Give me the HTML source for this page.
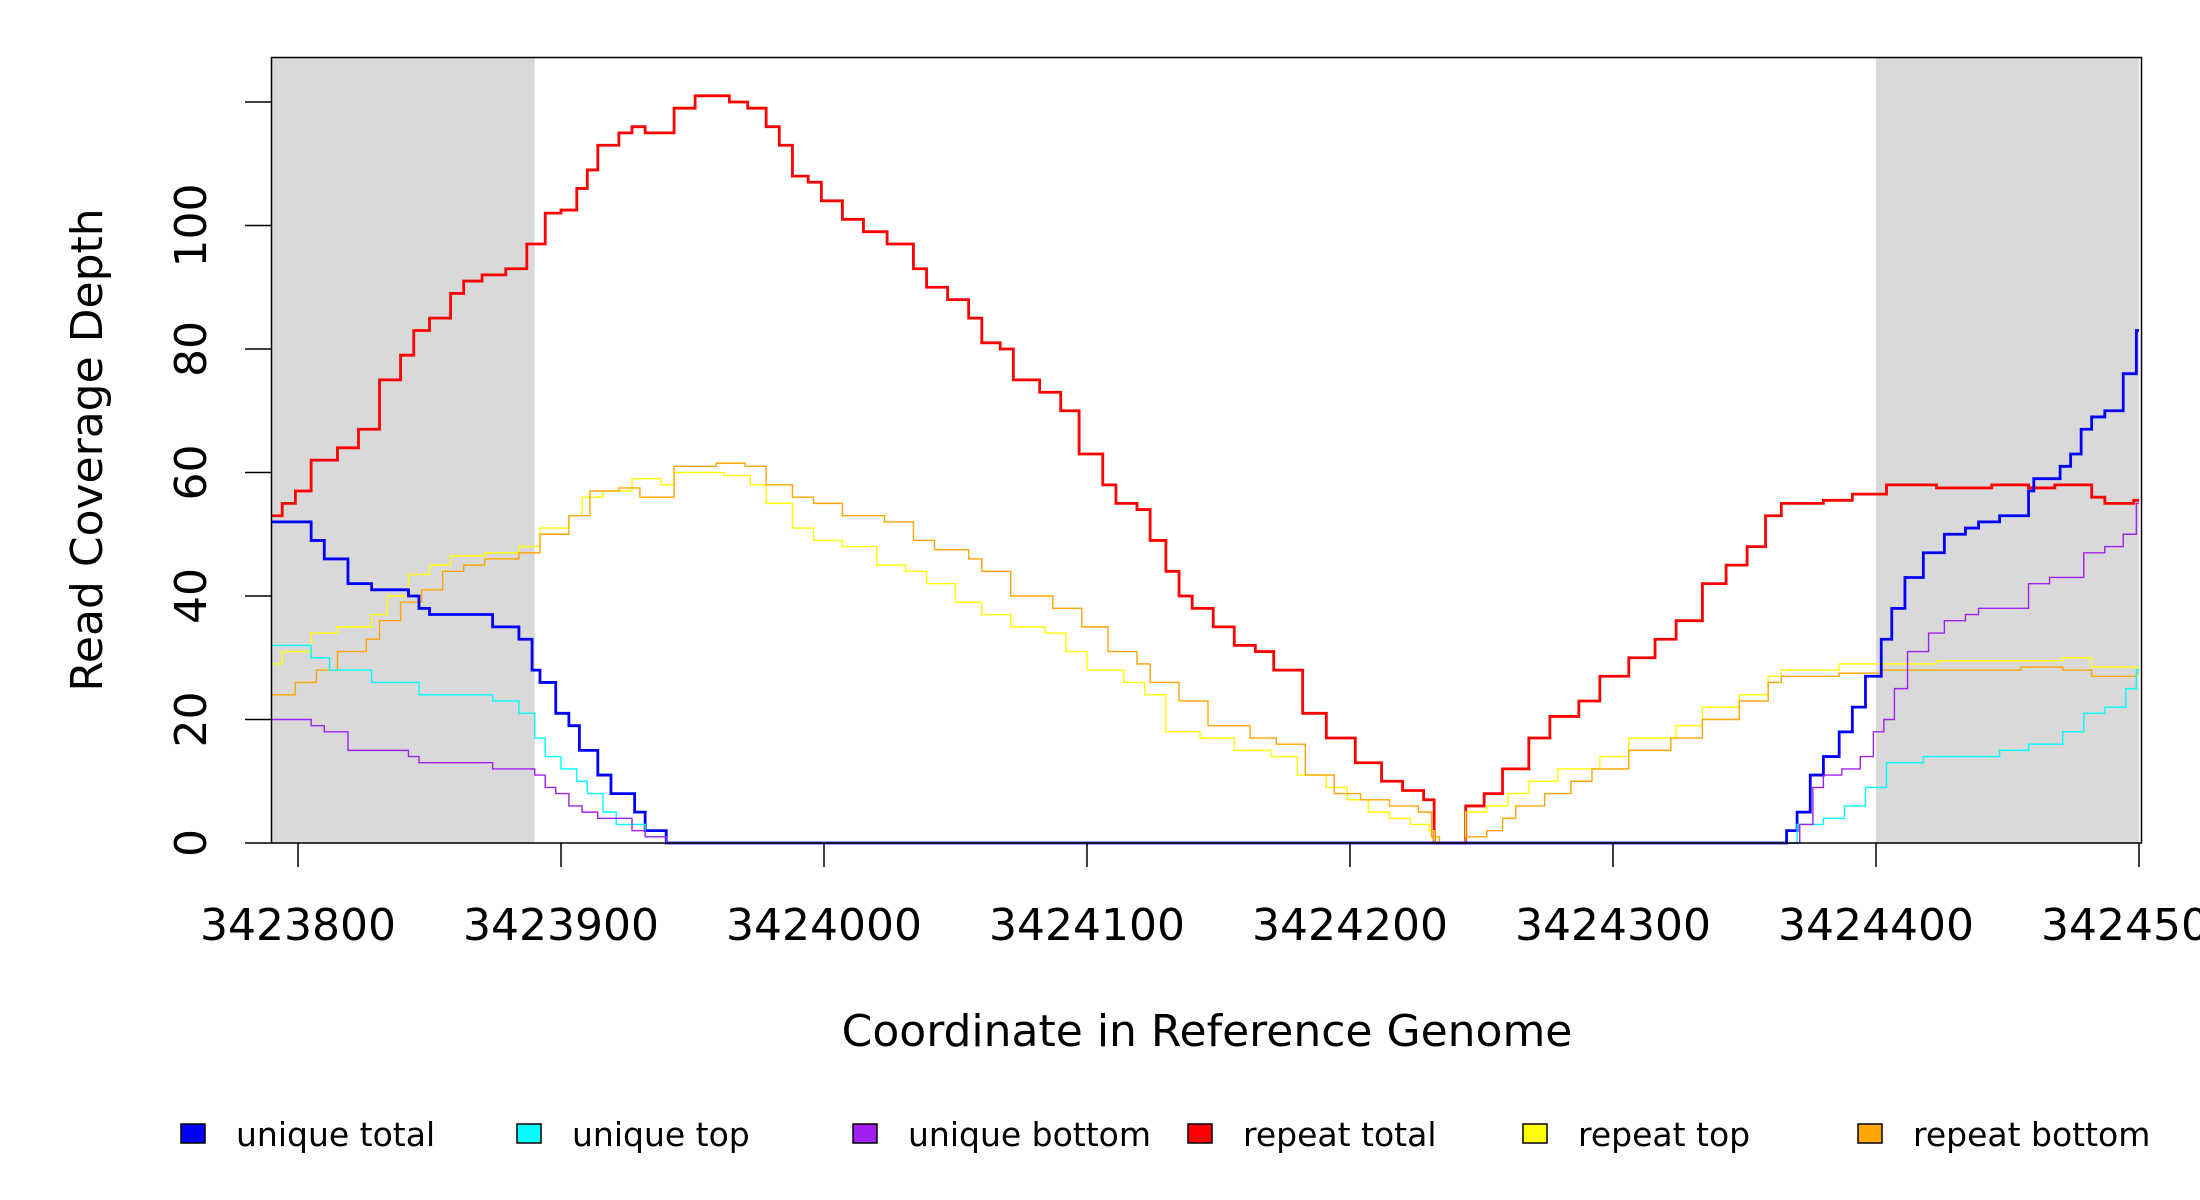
<!DOCTYPE html>
<html><head><meta charset="utf-8"><style>
html,body{margin:0;padding:0;background:#fff;}
svg{display:block;font-family:"DejaVu Sans","Liberation Sans",sans-serif;}
</style></head><body>
<svg id="chart" width="2200" height="1200" viewBox="0 0 2200 1200" xmlns="http://www.w3.org/2000/svg">
<g id="bg"></g><g id="series"></g><g id="axes"></g>
<text x="0" y="0" transform="translate(102,450) rotate(-90)" text-anchor="middle" font-size="44">Read Coverage Depth</text>
<text x="1207" y="1046" text-anchor="middle" font-size="44">Coordinate in Reference Genome</text>
<g id="legend"></g>
</svg>
<script>
const BASE = 3423800;
const xTickLabels = [3423800,3423900,3424000,3424100,3424200,3424300,3424400,3424500];
const yTickValues = [0,20,40,60,80,100,120];
const yTickLabels = ["0","20","40","60","80","100",""];
const shadedRegions = [[-10,90],[600,700]];
// step series: offsets from BASE and values
const redPos = [-10,-6,-1,5,15,23,31,39,44,50,58,63,70,79,87,94,100,106,110,114,122,127,132,140,143,151,156,164,171,178,183,188,194,199,207,215,224,234,239,247,255,260,267,272,282,290,297,306,311,319,324,330,335,340,348,356,364,371,382,391,402,412,420,428,432,444,451,458,468,476,487,495,506,516,524,534,543,551,558,564,580,591,604,623,644,658,668,682,687,698];
const redVal = [53,55,57,62,64,67,75,79,83,85,89,91,92,93,97,102,102.5,106,109,113,115,116,115,115,119,121,121,120,119,116,113,108,107,104,101,99,97,93,90,88,85,81,80,75,73,70,63,58,55,54,49,44,40,38,35,32,31,28,21,17,13,10,8.5,7,0,6,8,12,17,20.5,23,27,30,33,36,42,45,48,53,55,55.5,56.5,58,57.5,58,57.5,58,56,55,55.5];
const bluePos = [-10,5,10,19,28,42,46,50,74,84,89,92,98,103,107,114,119,128,132,140,566,570,575,580,586,591,596,602,606,611,618,626,634,639,647,658,660,670,674,678,682,687,694,699];
const blueVal = [52,49,46,42,41,40,38,37,35,33,28,26,21,19,15,11,8,5,2,0,2,5,11,14,18,22,27,33,38,43,47,50,51,52,53,57,59,61,63,67,69,70,76,83];
const cyanPos = [-10,5,12,28,46,74,84,90,94,100,106,110,116,121,132,140,570,580,588,596,604,618,647,658,671,679,687,695,699];
const cyanVal = [32,30,28,26,24,23,21,17,14,12,10,8,5,3,1,0,3,4,6,9,13,14,15,16,18,21,22,25,28];
const purplePos = [-10,5,10,19,42,46,74,90,94,98,103,108,114,127,132,140,571,576,580,587,594,599,603,607,612,620,626,634,639,658,666,679,687,694,699];
const purpleVal = [20,19,18,15,14,13,12,11,9,8,6,5,4,2,1,0,3,9,11,12,14,18,20,25,31,34,36,37,38,42,43,47,48,50,55];
const yellowPos = [-10,-6,5,15,28,34,42,50,58,71,84,92,103,108,116,127,138,143,162,172,178,188,196,207,220,231,239,250,260,271,284,292,300,314,322,330,343,356,370,380,391,399,407,415,423,430,432,444,452,460,468,479,495,506,524,534,548,559,564,586,602,623,655,671,682,699];
const yellowVal = [29,31,34,35,37,40,43.5,45,46.5,47,48,51,53,56,57,59,58,60,59.5,58,55,51,49,48,45,44,42,39,37,35,34,31,28,26,24,18,17,15,14,11,9,7,5,4,3,2,0,5,6,8,10,12,14,17,19,22,24,27,28,29,29,29.5,29.5,30,28.5,28];
const orangePos = [-10,-1,7,15,26,31,39,47,55,63,71,84,92,103,111,122,130,143,159,170,178,188,196,207,223,234,242,255,260,271,287,298,308,319,324,335,346,362,372,383,394,404,415,426,431,434,444,452,458,463,474,484,492,506,522,534,548,559,564,586,602,655,671,682,699];
const orangeVal = [24,26,28,31,33,36,39,41,44,45,46,47,50,53,57,57.5,56,61,61.5,61,58,56,55,53,52,49,47.5,46,44,40,38,35,31,29,26,23,19,17,16,11,8,7,6,5,1,0,1,2,4,6,8,10,12,15,17,20,23,26,27,27.5,28,28.5,28,27,27.5];
const legendLabels = ["unique total","unique top","unique bottom","repeat total","repeat top","repeat bottom"];
const legendColors = ["#0000ff","#00ffff","#a020f0","#ff0000","#ffff00","#ffa500"];

const NS="http://www.w3.org/2000/svg";
const PL=271.5, PR=2141.5, PT=57.5, PB=843;
const X1=700;
function xs(v){return 298 + v*2.63;}
function ys(v){return 843 - v*6.175;}
function mk(tag,attrs,parent){const e=document.createElementNS(NS,tag);for(const k in attrs)e.setAttribute(k,attrs[k]);parent.appendChild(e);return e;}
const bg=document.getElementById('bg'), ser=document.getElementById('series'), ax=document.getElementById('axes'), lg=document.getElementById('legend');
shadedRegions.forEach((r,i)=>{
  const e=mk('rect',{x:xs(r[0]),y:PT,width:xs(r[1])-xs(r[0]),height:PB-PT,fill:'#d9d9d9'},bg);
  
  
});
function stepPath(pos,val){
  const pts=pos.map((p,i)=>[p,val[i]]).sort((a,b)=>a[0]-b[0]);
  let d='M'+xs(pts[0][0])+' '+ys(pts[0][1]);
  for(let i=1;i<pts.length;i++){
    d+=' H'+xs(pts[i][0])+' V'+ys(pts[i][1]);
  }
  d+=' H'+xs(X1);
  return d;
}
const seriesList=[
 ['repeat-total-line',redPos,redVal,'#ff0000',2.8],
 ['repeat-top-line',yellowPos,yellowVal,'#ffff00',1.4],
 ['repeat-bottom-line',orangePos,orangeVal,'#ffa500',1.4],
 ['unique-total-line',bluePos,blueVal,'#0000ff',2.8],
 ['unique-top-line',cyanPos,cyanVal,'#00ffff',1.4],
 ['unique-bottom-line',purplePos,purpleVal,'#a020f0',1.4]
];
seriesList.forEach(s=>{
  const p=mk('path',{d:stepPath(s[1],s[2]),fill:'none',stroke:s[3],'stroke-width':s[4]},ser);
  
  
});
const box=mk('rect',{x:PL,y:PT,width:PR-PL,height:PB-PT,fill:'none',stroke:'#000','stroke-width':1.5},ax);


yTickValues.forEach((v,i)=>{
  const t=mk('line',{x1:245,x2:PL,y1:ys(v),y2:ys(v),stroke:'#000','stroke-width':1.5},ax);
  
  
  if(yTickLabels[i]){
    const tx=mk('text',{transform:`translate(206,${ys(v)}) rotate(-90)`,'text-anchor':'middle','font-size':44},ax);
    tx.textContent=yTickLabels[i];
    
    
  }
});
xTickLabels.forEach(v=>{
  const off=v-BASE;
  const t=mk('line',{x1:xs(off),x2:xs(off),y1:PB,y2:867,stroke:'#000','stroke-width':1.5},ax);
  
  
  const tx=mk('text',{x:xs(off),y:940,'text-anchor':'middle','font-size':44},ax);
  tx.textContent=String(v);
  
  
});
const legX=[181,517,853,1188,1523,1858];
legendLabels.forEach((l,i)=>{
  const g=mk('g',{},lg);
  
  
  mk('rect',{x:legX[i],y:1124,width:24,height:19,fill:legendColors[i],stroke:'#000','stroke-width':1.5},g);
  const tx=mk('text',{x:legX[i]+55,y:1146,'font-size':33},g);
  tx.textContent=l;
});
</script>
</body></html>
